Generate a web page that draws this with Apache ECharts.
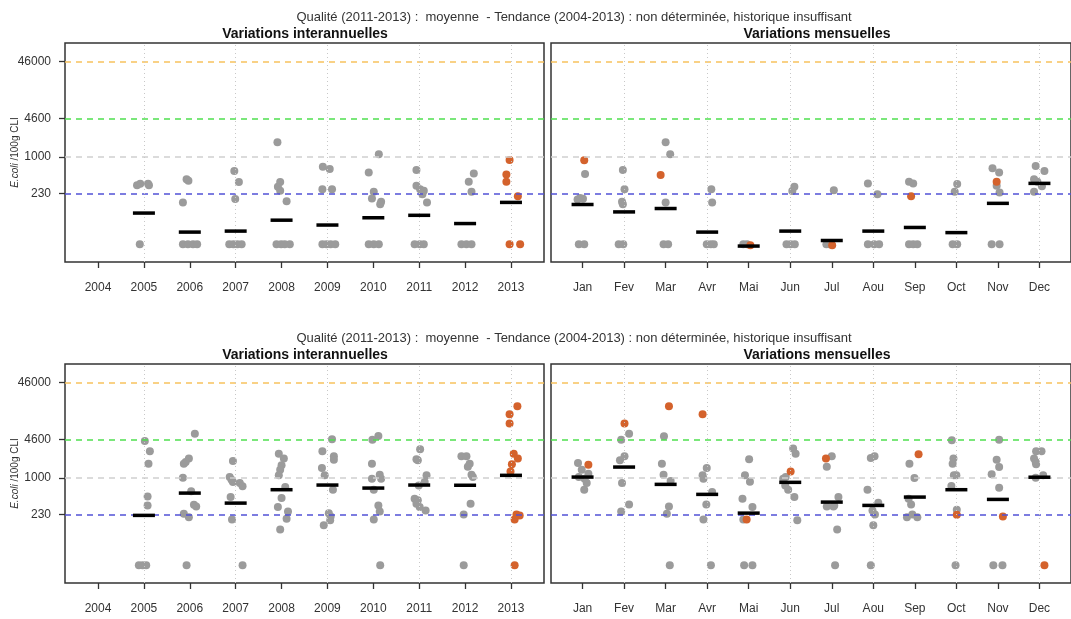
<!DOCTYPE html>
<html>
<head>
<meta charset="utf-8">
<script src="https://cdn.jsdelivr.net/npm/echarts/dist/echarts.min.js"></script>
<style>
  html, body { margin: 0; padding: 0; background: #fff; }
  #main { width: 1071px; height: 619px; }
</style>
</head>
<body>
<div id="main"></div>
<script>
// categories / ticks
var years = [2004, 2005, 2006, 2007, 2008, 2009, 2010, 2011, 2012, 2013];
var months = ['Jan', 'Fev', 'Mar', 'Avr', 'Mai', 'Jun', 'Jul', 'Aou', 'Sep', 'Oct', 'Nov', 'Dec'];
var monthIdx = [1, 2, 3, 4, 5, 6, 7, 8, 9, 10, 11, 12];
var yearGridLines = [2005, 2007, 2009, 2011, 2013];
var monthGridLines = [2, 4, 6, 8, 10, 12];
var refLevels = [230, 1000, 4600, 46000];
var refColors = ['#5252d6', '#cfcfcf', '#4fe04f', '#f7c25e'];

// panel 1 : variations interannuelles (haut)  [annee + jitter, E.coli]
var topYearGray = [
  [2004.85, 320], [2004.92, 340], [2005.09, 340], [2005.11, 320], [2004.91, 30],
  [2005.93, 405], [2005.97, 383], [2005.85, 161], [2005.85, 30], [2005.96, 30], [2006.07, 30], [2006.16, 30],
  [2006.97, 565], [2007.07, 363], [2006.99, 184], [2006.86, 30], [2006.95, 30], [2007.04, 30], [2007.13, 30],
  [2007.91, 1786], [2007.97, 363], [2007.92, 300], [2007.97, 256], [2008.11, 169], [2007.89, 30], [2007.99, 30], [2008.07, 30], [2008.18, 30],
  [2008.90, 671], [2009.05, 611], [2008.89, 274], [2009.10, 274], [2008.89, 30], [2008.98, 30], [2009.07, 30], [2009.17, 30],
  [2010.12, 1104], [2009.90, 535], [2010.01, 246], [2009.97, 189], [2010.17, 165], [2010.15, 149], [2009.90, 30], [2010.01, 30], [2010.12, 30],
  [2010.94, 587], [2010.94, 313], [2011.02, 274], [2011.10, 256], [2011.07, 224], [2011.17, 161], [2010.90, 30], [2011.01, 30], [2011.10, 30],
  [2012.19, 515], [2012.08, 367], [2012.14, 246], [2011.92, 30], [2012.03, 30], [2012.14, 30]
];
var topYearOrange = [[2012.97, 877], [2012.90, 494], [2012.90, 367], [2013.15, 207], [2012.97, 30], [2013.20, 30]];
var topYearMean = [null, 105, 49, 51, 79, 65, 87, 96, 69, 161];

// panel 2 : variations mensuelles (haut)  [mois + jitter, E.coli]
var topMonthGray = [
  [1.06, 500], [0.88, 181], [0.94, 193], [1.01, 186], [0.91, 30], [1.04, 30],
  [1.97, 587], [2.01, 274], [1.95, 165], [1.97, 149], [1.87, 30], [1.98, 30],
  [3.00, 1786], [3.11, 1104], [3.00, 161], [2.95, 30], [3.06, 30],
  [4.10, 274], [4.12, 161], [3.99, 30], [4.09, 30], [4.16, 30],
  [4.87, 30], [4.96, 30],
  [6.05, 253], [6.10, 300], [5.91, 30], [6.01, 30], [6.11, 30],
  [7.05, 263], [6.87, 30], [6.94, 30],
  [7.87, 345], [8.10, 224], [7.87, 30], [8.02, 30], [8.14, 30],
  [8.86, 367], [8.96, 345], [8.86, 30], [8.96, 30], [9.06, 30],
  [10.02, 335], [9.96, 246], [9.91, 30], [10.02, 30],
  [10.87, 630], [11.03, 535], [10.97, 313], [11.04, 240], [10.85, 30], [11.04, 30],
  [11.91, 690], [12.12, 565], [11.87, 405], [11.95, 367], [12.06, 307], [11.87, 246]
];
var topMonthOrange = [[1.04, 867], [2.88, 481], [5.04, 29], [7.01, 29], [8.91, 207], [10.97, 367]];
var topMonthMean = [148, 110, 126, 49, 28, 51, 35, 51, 59, 48, 155, 345];

// panel 3 : variations interannuelles (bas)
var botYearGray = [
  [2005.02, 4370], [2005.13, 2890], [2005.10, 1762], [2005.08, 475], [2005.08, 331], [2004.89, 30], [2004.97, 30], [2005.05, 30],
  [2006.11, 5870], [2005.98, 2157], [2005.91, 1880], [2005.87, 1762], [2005.85, 1006], [2006.03, 581], [2006.09, 340], [2006.14, 318], [2005.87, 237], [2005.98, 207], [2005.93, 30],
  [2006.94, 1952], [2006.87, 1030], [2006.91, 928], [2006.94, 843], [2007.09, 810], [2007.15, 710], [2006.89, 462], [2006.92, 189], [2007.15, 30],
  [2007.94, 2634], [2008.05, 2157], [2008.00, 1648], [2007.97, 1387], [2007.94, 1104], [2008.08, 690], [2008.00, 444], [2007.92, 310], [2008.14, 260], [2008.11, 194], [2007.97, 126],
  [2009.10, 4677], [2008.89, 2890], [2009.14, 2366], [2009.14, 2070], [2008.88, 1479], [2008.94, 1104], [2009.12, 621], [2009.03, 243], [2009.07, 213], [2009.06, 182], [2008.92, 149],
  [2009.98, 4613], [2010.11, 5335], [2009.97, 1762], [2010.14, 1135], [2009.97, 966], [2010.17, 966], [2010.01, 621], [2010.11, 331], [2010.14, 260], [2010.01, 189], [2010.15, 30],
  [2011.02, 3133], [2010.94, 2094], [2010.97, 2013], [2011.16, 1104], [2011.12, 843], [2010.99, 738], [2010.90, 433], [2010.97, 405], [2010.94, 354], [2011.01, 310], [2011.14, 271],
  [2011.92, 2366], [2012.03, 2366], [2012.10, 1762], [2012.06, 1565], [2012.14, 1135], [2012.17, 1030], [2012.12, 354], [2011.97, 231], [2011.97, 30]
];
var botYearOrange = [[2013.14, 17580], [2012.97, 12740], [2012.97, 8770], [2013.06, 2634], [2013.15, 2157], [2013.02, 1713], [2012.99, 1294], [2013.12, 231], [2013.19, 222], [2013.08, 189], [2013.08, 30]];
var botYearMean = [null, 222, 542, 363, 621, 748, 663, 748, 742, 1104];

// panel 4 : variations mensuelles (bas)
var botMonthGray = [
  [0.89, 1806], [0.98, 1387], [1.14, 1181], [1.05, 966], [1.10, 810], [1.04, 621], [0.91, 1030],
  [2.12, 5870], [1.93, 4613], [1.90, 2013], [2.01, 2366], [1.95, 810], [2.12, 345], [1.93, 260],
  [2.96, 5270], [2.91, 1762], [2.95, 1135], [3.12, 877], [3.08, 318], [3.03, 237], [3.10, 30],
  [3.99, 1479], [3.89, 1104], [3.91, 966], [4.12, 565], [3.98, 345], [3.91, 189], [4.09, 30],
  [5.01, 2094], [4.91, 1104], [5.03, 857], [4.85, 433], [5.09, 310], [4.87, 189], [4.89, 30], [5.09, 30],
  [6.07, 3221], [6.13, 2634], [5.89, 1030], [5.83, 966], [5.88, 738], [5.95, 621], [6.10, 462], [6.17, 182],
  [7.00, 2366], [6.88, 1565], [7.16, 462], [7.06, 331], [6.88, 318], [7.04, 318], [7.13, 126], [7.08, 30],
  [7.94, 2208], [8.03, 2366], [7.86, 621], [8.12, 369], [7.98, 271], [8.04, 231], [8.00, 149], [7.94, 30],
  [8.87, 1762], [8.99, 990], [8.85, 433], [8.91, 345], [8.81, 207], [8.94, 231], [9.06, 207],
  [9.89, 4487], [9.93, 2157], [9.91, 1762], [9.94, 1104], [10.00, 1104], [9.88, 718], [10.01, 279], [9.98, 30],
  [11.03, 4613], [10.97, 2070], [11.03, 1538], [10.85, 1148], [11.03, 673], [10.89, 30], [11.11, 30],
  [11.92, 2890], [12.05, 2890], [11.87, 2157], [11.91, 1880], [11.92, 1713], [11.91, 1006], [12.09, 1104]
];
var botMonthOrange = [[1.14, 1695], [2.01, 8770], [3.08, 17580], [3.89, 12740], [4.95, 189], [6.01, 1294], [6.86, 2157], [9.09, 2558], [10.01, 228], [11.12, 213], [12.12, 30]];
var botMonthMean = [1030, 1538, 769, 515, 243, 834, 378, 331, 462, 621, 421, 1024];

var mainTitle = 'Qualité (2011-2013) :  moyenne  - Tendance (2004-2013) : non déterminée, historique insuffisant';
</script>
<script>
var chart = echarts.init(document.getElementById('main'), null, { renderer: 'canvas' });

function toLog(pts) {
    return pts.map(function (p) { return [p[0], Math.log10(p[1])]; });
}
function meanPts(cats, vals) {
    var out = [];
    cats.forEach(function (c, i) {
        if (vals[i] != null) out.push([c, Math.log10(vals[i])]);
    });
    return out;
}

var yMin = 1.17, yMax = 4.98;
var rows = [43, 364];
var panels = [
    { row: 0, kind: 'year', gray: topYearGray, orange: topYearOrange, mean: meanPts(years, topYearMean) },
    { row: 0, kind: 'month', gray: topMonthGray, orange: topMonthOrange, mean: meanPts(monthIdx, topMonthMean) },
    { row: 1, kind: 'year', gray: botYearGray, orange: botYearOrange, mean: meanPts(years, botYearMean) },
    { row: 1, kind: 'month', gray: botMonthGray, orange: botMonthOrange, mean: meanPts(monthIdx, botMonthMean) }
];

var grid = [], xAxis = [], yAxis = [], series = [], title = [];

panels.forEach(function (p, i) {
    var isYear = p.kind === 'year';
    grid.push({
        left: isYear ? 65 : 551,
        top: rows[p.row],
        width: isYear ? 479 : 532,
        height: 219,
        show: true,
        backgroundColor: '#fff',
        borderColor: '#333',
        borderWidth: 1.5
    });
    xAxis.push({
        gridIndex: i,
        type: 'value',
        min: isYear ? 2003.28 : 0.24,
        max: isYear ? 2013.72 : 12.76,
        axisLine: { show: false, onZero: false },
        splitLine: { show: false },
        axisTick: {
            show: true,
            customValues: isYear ? years : monthIdx,
            length: 6,
            lineStyle: { color: '#333', width: 1.3 }
        },
        axisLabel: {
            customValues: isYear ? years : monthIdx,
            margin: 20,
            fontSize: 12,
            fontFamily: 'Liberation Sans',
            color: '#333',
            formatter: function (v) {
                return isYear ? String(Math.round(v)) : months[Math.round(v) - 1];
            }
        }
    });
    yAxis.push({
        gridIndex: i,
        type: 'value',
        min: yMin,
        max: yMax,
        axisLine: { show: false },
        splitLine: { show: false },
        axisTick: {
            show: isYear,
            customValues: refLevels.map(Math.log10),
            length: 6,
            lineStyle: { color: '#333', width: 1.3 }
        },
        axisLabel: {
            show: isYear,
            customValues: refLevels.map(Math.log10),
            margin: 14,
            fontSize: 12,
            fontFamily: 'Liberation Sans',
            color: '#333',
            formatter: function (v) { return String(Math.round(Math.pow(10, v))); }
        },
        name: isYear ? '{i|E.coli} /100g CLI' : '',
        nameLocation: 'middle',
        nameGap: 45,
        nameMoveOverlap: false,
        nameRotate: 90,
        nameTextStyle: {
            fontSize: 10,
            fontFamily: 'Liberation Sans',
            color: '#333',
            rich: { i: { fontStyle: 'italic', fontSize: 10, fontFamily: 'Liberation Sans', color: '#333' } }
        }
    });

    // lignes de reference + grille pointillee
    var mk = refLevels.map(function (lv, k) {
        return { yAxis: Math.log10(lv), lineStyle: { color: refColors[k], type: [6, 5], width: 1.6 } };
    });
    (isYear ? yearGridLines : monthGridLines).forEach(function (g) {
        mk.push({ xAxis: g, lineStyle: { color: '#c8c8c8', type: [1, 3], width: 1 } });
    });
    series.push({
        type: 'scatter', xAxisIndex: i, yAxisIndex: i, data: [], z: 1,
        markLine: { silent: true, symbol: ['none', 'none'], label: { show: false }, data: mk, animation: false }
    });
    series.push({
        type: 'scatter', xAxisIndex: i, yAxisIndex: i, z: 3,
        symbolSize: 8, itemStyle: { color: '#9b9b9b', opacity: 1 },
        data: toLog(p.gray)
    });
    series.push({
        type: 'scatter', xAxisIndex: i, yAxisIndex: i, z: 4,
        symbolSize: 8, itemStyle: { color: '#d4622c', opacity: 1 },
        data: toLog(p.orange)
    });
    series.push({
        type: 'scatter', xAxisIndex: i, yAxisIndex: i, z: 5,
        symbol: 'rect', symbolSize: [22, 3.5], itemStyle: { color: '#000', opacity: 1 },
        data: p.mean
    });
});

rows.forEach(function (top) {
    title.push({
        text: mainTitle, left: 574, top: top - 32, textAlign: 'center', padding: 0,
        textStyle: { fontSize: 13, fontWeight: 'normal', color: '#333', fontFamily: 'Liberation Sans' }
    });
    title.push({
        text: 'Variations interannuelles', left: 305, top: top - 16, textAlign: 'center', padding: 0,
        textStyle: { fontSize: 14, fontWeight: 'bold', color: '#111', fontFamily: 'Liberation Sans' }
    });
    title.push({
        text: 'Variations mensuelles', left: 817, top: top - 16, textAlign: 'center', padding: 0,
        textStyle: { fontSize: 14, fontWeight: 'bold', color: '#111', fontFamily: 'Liberation Sans' }
    });
});

var option = {
    animation: false,
    backgroundColor: '#fff',
    title: title,
    grid: grid,
    xAxis: xAxis,
    yAxis: yAxis,
    series: series
};
chart.setOption(option, true);
</script>
</body>
</html>
